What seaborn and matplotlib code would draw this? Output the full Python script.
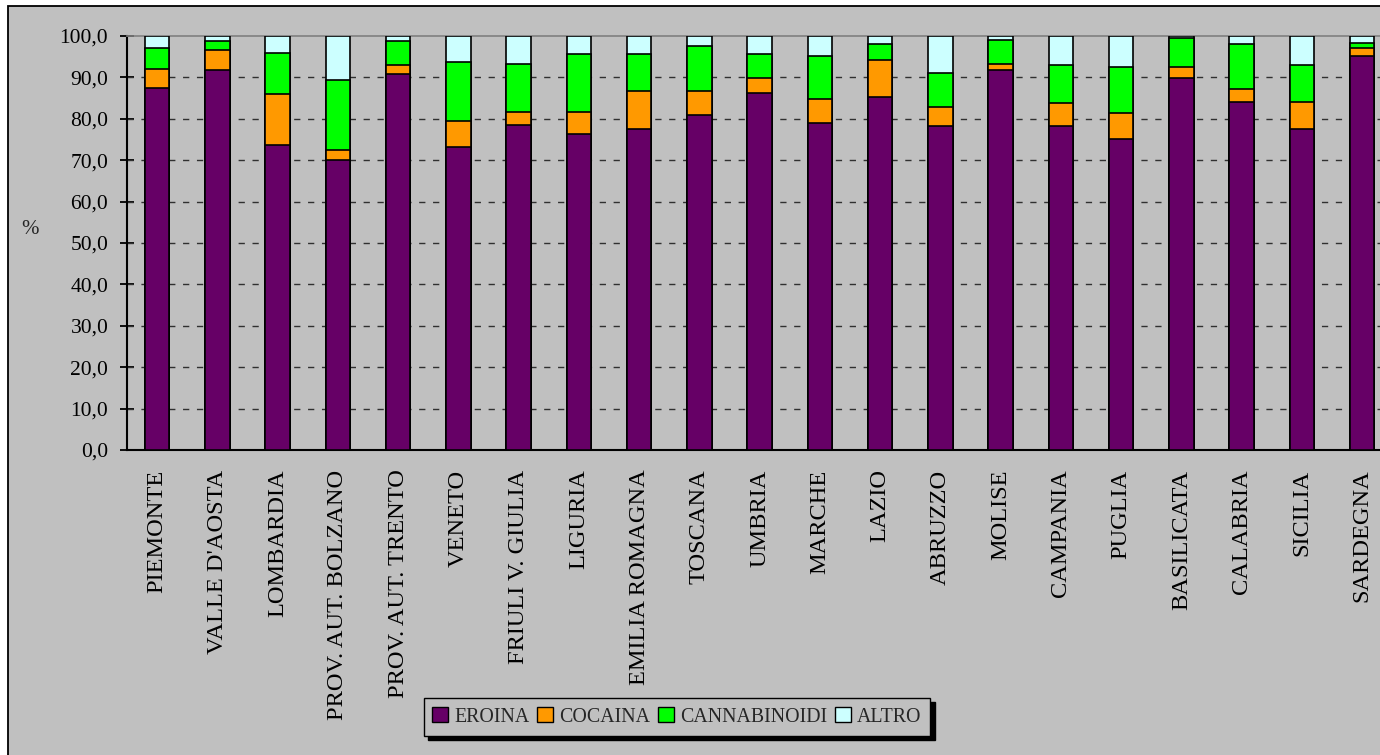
import matplotlib
matplotlib.use("Agg")
import matplotlib.pyplot as plt
import seaborn as sns
import numpy as np
import pandas as pd
from matplotlib.patches import Rectangle, Patch

categories = ["PIEMONTE", "VALLE D'AOSTA", "LOMBARDIA", "PROV. AUT. BOLZANO",
              "PROV. AUT. TRENTO", "VENETO", "FRIULI V. GIULIA", "LIGURIA",
              "EMILIA ROMAGNA", "TOSCANA", "UMBRIA", "MARCHE", "LAZIO",
              "ABRUZZO", "MOLISE", "CAMPANIA", "PUGLIA", "BASILICATA",
              "CALABRIA", "SICILIA", "SARDEGNA"]
eroina = [87.4, 91.7, 73.6, 70.0, 90.9, 73.2, 78.6, 76.3, 77.5, 80.8, 86.3,
          78.9, 85.3, 78.2, 91.7, 78.2, 75.1, 89.8, 84.1, 77.5, 95.2]
cocaina = [4.7, 5.0, 12.3, 2.4, 2.2, 6.3, 3.0, 5.3, 9.2, 5.9, 3.5,
           5.8, 8.8, 4.7, 1.5, 5.5, 6.3, 2.6, 3.0, 6.6, 1.9]
cannabinoidi = [4.9, 2.0, 10.1, 16.9, 5.6, 14.1, 11.7, 14.0, 8.9, 10.8, 5.8,
                10.5, 3.9, 8.1, 5.9, 9.2, 11.1, 7.0, 10.9, 8.8, 1.2]
altro = [3.0, 1.3, 4.0, 10.7, 1.3, 6.4, 6.7, 4.4, 4.4, 2.5, 4.4,
         4.8, 2.0, 9.0, 0.9, 7.1, 7.5, 0.6, 2.0, 7.1, 1.7]
series_names = ["EROINA", "COCAINA", "CANNABINOIDI", "ALTRO"]
y_ticks = [0, 10, 20, 30, 40, 50, 60, 70, 80, 90, 100]

colors = ["#660066", "#FF9900", "#00FF00", "#CCFFFF"]
BG = "#C0C0C0"

sns.set_theme(style="white")
plt.rcParams["font.family"] = ["Liberation Serif", "DejaVu Serif"]

W, H = 1380, 755
fig = plt.figure(figsize=(W / 100, H / 100), dpi=100)
fig.patch.set_facecolor("white")
# outer chart frame
fig.patches.append(Rectangle((8 / W, -0.05), 1.2, (H - 6) / H + 0.05,
                             transform=fig.transFigure, facecolor=BG,
                             edgecolor="black", linewidth=1.3, zorder=-5))

ax_left, ax_right = 127, 127 + 21 * 60.25
ax_top, ax_bot = 36, 450
ax = fig.add_axes([ax_left / W, 1 - ax_bot / H, (ax_right - ax_left) / W,
                   (ax_bot - ax_top) / H])
ax.set_zorder(1)
ax.set_facecolor(BG)

df = pd.DataFrame({"cat": categories, "EROINA": eroina, "COCAINA": cocaina,
                   "CANNABINOIDI": cannabinoidi, "ALTRO": altro})
cum = df[series_names].cumsum(axis=1)

for name, col in reversed(list(zip(series_names, colors))):
    sns.barplot(x=df["cat"], y=cum[name], color=col, width=0.41,
                edgecolor="black", linewidth=1.2, saturation=1, ax=ax,
                zorder=3)

ax.set_ylim(0, 100)
ax.set_xlim(-0.5, 20.5)
ax.set_yticks(y_ticks)
ax.set_yticklabels([f"{v:.1f}".replace(".", ",") for v in y_ticks],
                   fontsize=15.5, color="black")
ax.tick_params(axis="y", direction="inout", length=10, width=1.3,
               color="black", pad=8.5, left=True)
ax.tick_params(axis="x", length=0, pad=14)
ax.set_xticks(range(len(categories)))
ax.set_xticklabels(categories, rotation=90, fontsize=17.6, color="black",
                   va="top", ha="center")
ax.set_xlabel("")
ax.set_ylabel("")

for v in y_ticks[1:-1]:
    ax.axhline(v, color="#303030", linewidth=1.0, linestyle=(0, (4.5, 5.5)),
               zorder=1)

for s in ["left", "bottom"]:
    ax.spines[s].set_color("black")
    ax.spines[s].set_linewidth(1.5)
ax.spines["top"].set_color("#808080")
ax.spines["top"].set_linewidth(1.2)
ax.spines["right"].set_visible(False)

fig.text(30 / W, 1 - 229 / H, "%", fontsize=15, ha="center", va="center")

handles = [Patch(facecolor=c, edgecolor="black", linewidth=1.0)
           for c in colors]
leg = fig.legend(handles, series_names, loc="center",
                 bbox_to_anchor=(677 / W, 1 - 717 / H), ncol=4, fontsize=14.3,
                 frameon=True, fancybox=False, framealpha=1,
                 facecolor=BG, edgecolor="black",
                 shadow={"color": "black", "alpha": 1.0, "ox": 3, "oy": -3},
                 handlelength=0.8, handleheight=0.8, handletextpad=0.3,
                 columnspacing=0.4, borderpad=0.45, borderaxespad=0)
leg.get_frame().set_linewidth(1.0)

fig.savefig("out.png", dpi=100, facecolor=fig.get_facecolor())
